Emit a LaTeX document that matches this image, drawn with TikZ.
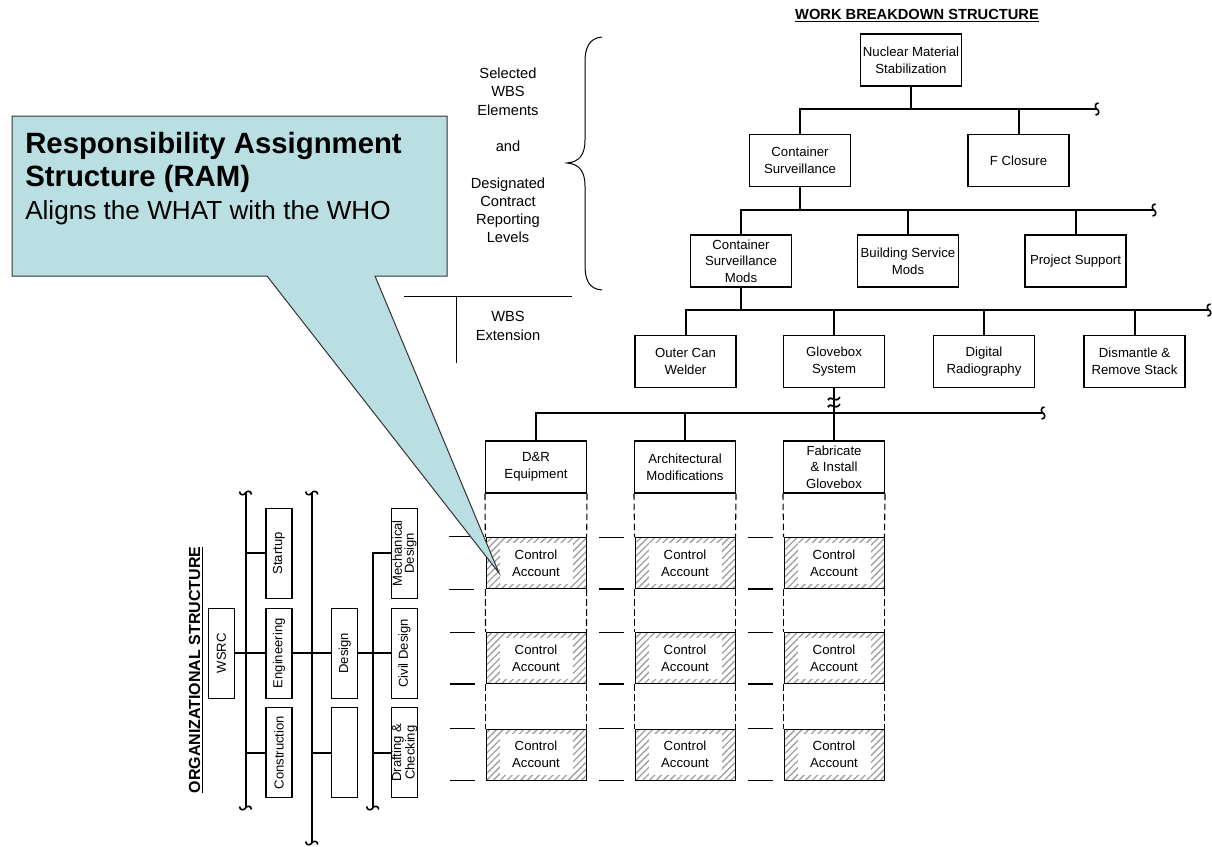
\documentclass[tikz,border=0pt]{standalone}
\usepackage{fontspec}
\setmainfont{Liberation Sans}
\usepackage{tikz}
\usetikzlibrary{patterns.meta,calc}
\definecolor{ramblue}{RGB}{185,223,227}
\definecolor{hatchgray}{RGB}{160,160,160}
\newcommand{\boxfont}{\fontsize{9.9}{12.5}\selectfont}
\newcommand{\orgfont}{\fontsize{9.8}{9}\selectfont}
\newcommand{\notefont}{\fontsize{11}{13.7}\selectfont}
\tikzset{
  wbsbox/.style={
    draw,line width=0.8pt,align=center,minimum width=75.75pt,
    minimum height=39pt,inner sep=1pt,font=\boxfont
  },
  orgbox/.style={
    draw,line width=0.8pt,rotate=90,align=center,minimum width=67.5pt,
    minimum height=19.5pt,inner sep=0pt,font=\orgfont
  },
  cabox/.style={
    draw,line width=0.7pt,minimum width=75pt,minimum height=38.25pt,
    pattern={Lines[angle=45,distance=3.6pt,line width=1pt]},pattern color=hatchgray
  },
  catext/.style={fill=white,minimum width=54.75pt,minimum height=30.75pt,
    inner sep=0pt,align=center,font=\boxfont},
  treeline/.style={line width=1.5pt},
  colline/.style={line width=0.8pt,dash pattern=on 5pt off 2.5pt},
  rowtick/.style={line width=0.8pt},
  noteline/.style={line width=0.75pt},
  callout/.style={draw=black!80,line width=0.75pt,fill=ramblue},
  brk/.pic={\draw[line width=1.2pt] (1.5,-6) .. controls (-2.5,-6) and (-2.5,-1) .. (0,0)
    .. controls (2.5,1) and (2.5,6) .. (-1.5,6);},
  wavy/.pic={\draw[line width=1.3pt] (-6,-2) .. controls (-3,-8) and (1,2) .. (6,-5)
    (-6,5) .. controls (-3,-1) and (1,9) .. (6,2);}
}
\begin{document}
\begin{tikzpicture}[x=0.75pt,y=-0.75pt]
  \useasboundingbox (0,0) rectangle (1212,846);

  \node[font=\fontsize{11}{13}\selectfont\bfseries] (wbstitle) at (917,16) {\underline{WORK BREAKDOWN STRUCTURE}};
  \node[wbsbox] (nms) at (911,60) {Nuclear Material\\Stabilization};
  \node[wbsbox] (cs) at (800,160.5) {Container\\Surveillance};
  \node[wbsbox] (fcl) at (1018.5,160.5) {F Closure};
  \node[wbsbox] (csm) at (741,261) {Container\\Surveillance\\Mods};
  \node[wbsbox] (bsm) at (908,261) {Building Service\\Mods};
  \node[wbsbox] (psup) at (1075.5,261) {Project Support};
  \node[wbsbox] (ocw) at (685.5,361.5) {Outer Can\\Welder};
  \node[wbsbox] (gbs) at (834,361.5) {Glovebox\\System};
  \node[wbsbox] (drad) at (984,361.5) {Digital\\Radiography};
  \node[wbsbox] (dsm) at (1134.5,361.5) {Dismantle \&\\Remove Stack};
  \node[wbsbox] (dre) at (536,467) {D\&R\\Equipment};
  \node[wbsbox] (arch) at (685,467) {Architectural\\Modifications};
  \node[wbsbox] (fig) at (834,467) {Fabricate\\\& Install\\Glovebox};

  \coordinate (l2) at (1097,109);
  \coordinate (l3) at (1154,210);
  \coordinate (l4) at (1209,310);
  \coordinate (l5) at (1043,413);
  \draw[treeline] (cs.north) |- (l2);
  \draw[treeline] (nms.south) -- (nms.south |- l2);
  \draw[treeline] (fcl.north) -- (fcl.north |- l2);
  \draw[treeline] (csm.north) |- (l3);
  \draw[treeline] (cs.south) -- (cs.south |- l3);
  \draw[treeline] (bsm.north) -- (bsm.north |- l3);
  \draw[treeline] (psup.north) -- (psup.north |- l3);
  \draw[treeline] (ocw.north) |- (l4);
  \draw[treeline] (csm.south) -- (csm.south |- l4);
  \draw[treeline] (gbs.north) -- (gbs.north |- l4);
  \draw[treeline] (drad.north) -- (drad.north |- l4);
  \draw[treeline] (dsm.north) -- (dsm.north |- l4);
  \draw[treeline] (dre.north) |- (l5);
  \draw[treeline] (arch.north) -- (arch.north |- l5);
  \draw[treeline] (gbs.south) -- (fig.north);
  \foreach \p in {l2,l3,l4,l5} \pic at (\p) {brk};
  \pic at ($(gbs.south)!0.27!(fig.north)$) {wavy};

  \foreach \c/\x in {1/536,2/685,3/834}{
    \foreach \r/\y in {1/563,2/658,3/754.5}{
      \node[cabox] (ca\c\r) at (\x,\y) {};
      \node[catext] (cat\c\r) at (ca\c\r) {Control\\Account};
      \draw[rowtick] ([xshift=-27pt]ca\c\r.north west) -- ++(25,0);
      \draw[rowtick] ([xshift=-27pt]ca\c\r.south west) -- ++(25,0);
    }
  }
  \foreach \c/\w in {1/dre,2/arch,3/fig}{
    \draw[colline] (\w.south west) -- (ca\c1.north west) (\w.south east) -- (ca\c1.north east);
    \draw[colline] (ca\c1.south west) -- (ca\c2.north west) (ca\c1.south east) -- (ca\c2.north east);
    \draw[colline] (ca\c2.south west) -- (ca\c3.north west) (ca\c2.south east) -- (ca\c3.north east);
  }

  \node[rotate=90,font=\fontsize{12}{14}\selectfont\bfseries] (orgtitle) at (196,670) {\underline{ORGANIZATIONAL STRUCTURE}};
  \node[orgbox] (wsrc) at (221.3,653.3) {WSRC};
  \node[orgbox] (startup) at (279,553.3) {Startup};
  \node[orgbox] (eng) at (279,653.3) {Engineering};
  \node[orgbox] (constr) at (279,752.7) {Construction};
  \node[orgbox] (design) at (344.7,653.3) {Design};
  \node[orgbox] (spare) at (344.7,752.7) {};
  \node[orgbox] (mech) at (404.5,553.3) {Mechanical\\Design};
  \node[orgbox] (civil) at (404.5,653.3) {Civil Design};
  \node[orgbox] (draft) at (404.5,752.7) {Drafting \&\\Checking};

  \coordinate (b1top) at (245.5,493);
  \coordinate (b1bot) at (245.5,808);
  \coordinate (b2top) at (311.7,493);
  \coordinate (b2bot) at (311.7,843);
  \coordinate (b3bot) at (372.7,808);
  \draw[treeline] (b1top) -- (b1bot);
  \draw[treeline] (b2top) -- (b2bot);
  \draw[treeline] (mech.north) -| (b3bot);
  \draw[treeline] (wsrc.south) -- (eng.north);
  \draw[treeline] (startup.north) -- (startup.north -| b1top);
  \draw[treeline] (constr.north) -- (constr.north -| b1top);
  \draw[treeline] (eng.south) -- (design.north);
  \draw[treeline] (spare.north) -- (spare.north -| b2top);
  \draw[treeline] (design.south) -- (civil.north);
  \draw[treeline] (draft.north) -- (draft.north -| b3bot);
  \foreach \p in {b1top,b1bot,b2top,b2bot,b3bot} \pic[rotate=90] at (\p) {brk};

  \draw[noteline] (602,37) .. controls (589,38) and (585,48) .. (585,62) -- (585,140)
    .. controls (585,155) and (579,162) .. (567,163) .. controls (579,164) and (585,171) .. (585,186)
    -- (585,265) .. controls (585,280) and (589,289) .. (602,290);
  \node[font=\notefont,align=center] (levels) at (508,155.5)
    {Selected\\WBS\\Elements\\[13.7pt]and\\[13.7pt]Designated\\Contract\\Reporting\\Levels};
  \node[font=\notefont,align=center] (ext) at (508,326) {WBS\\Extension};
  \coordinate (exl) at (404,296);
  \coordinate (exr) at (572,296);
  \draw[noteline] (exl) -- (exr);
  \draw[noteline] (456,296) -- (456,363);

  \draw[callout] (12,116) -- (447,116) -- (447,276) -- (375,276) -- (499,573) -- (267,276) -- (12,276) -- cycle;
  \node[anchor=north west,inner sep=0pt,align=left,font=\fontsize{22}{24.75}\selectfont] (ram) at (25,132)
    {\textbf{Responsibility Assignment}\\\textbf{Structure (RAM)}\\{\fontsize{19.6}{24.75}\selectfont Aligns the WHAT with the WHO}};
\end{tikzpicture}
\end{document}
